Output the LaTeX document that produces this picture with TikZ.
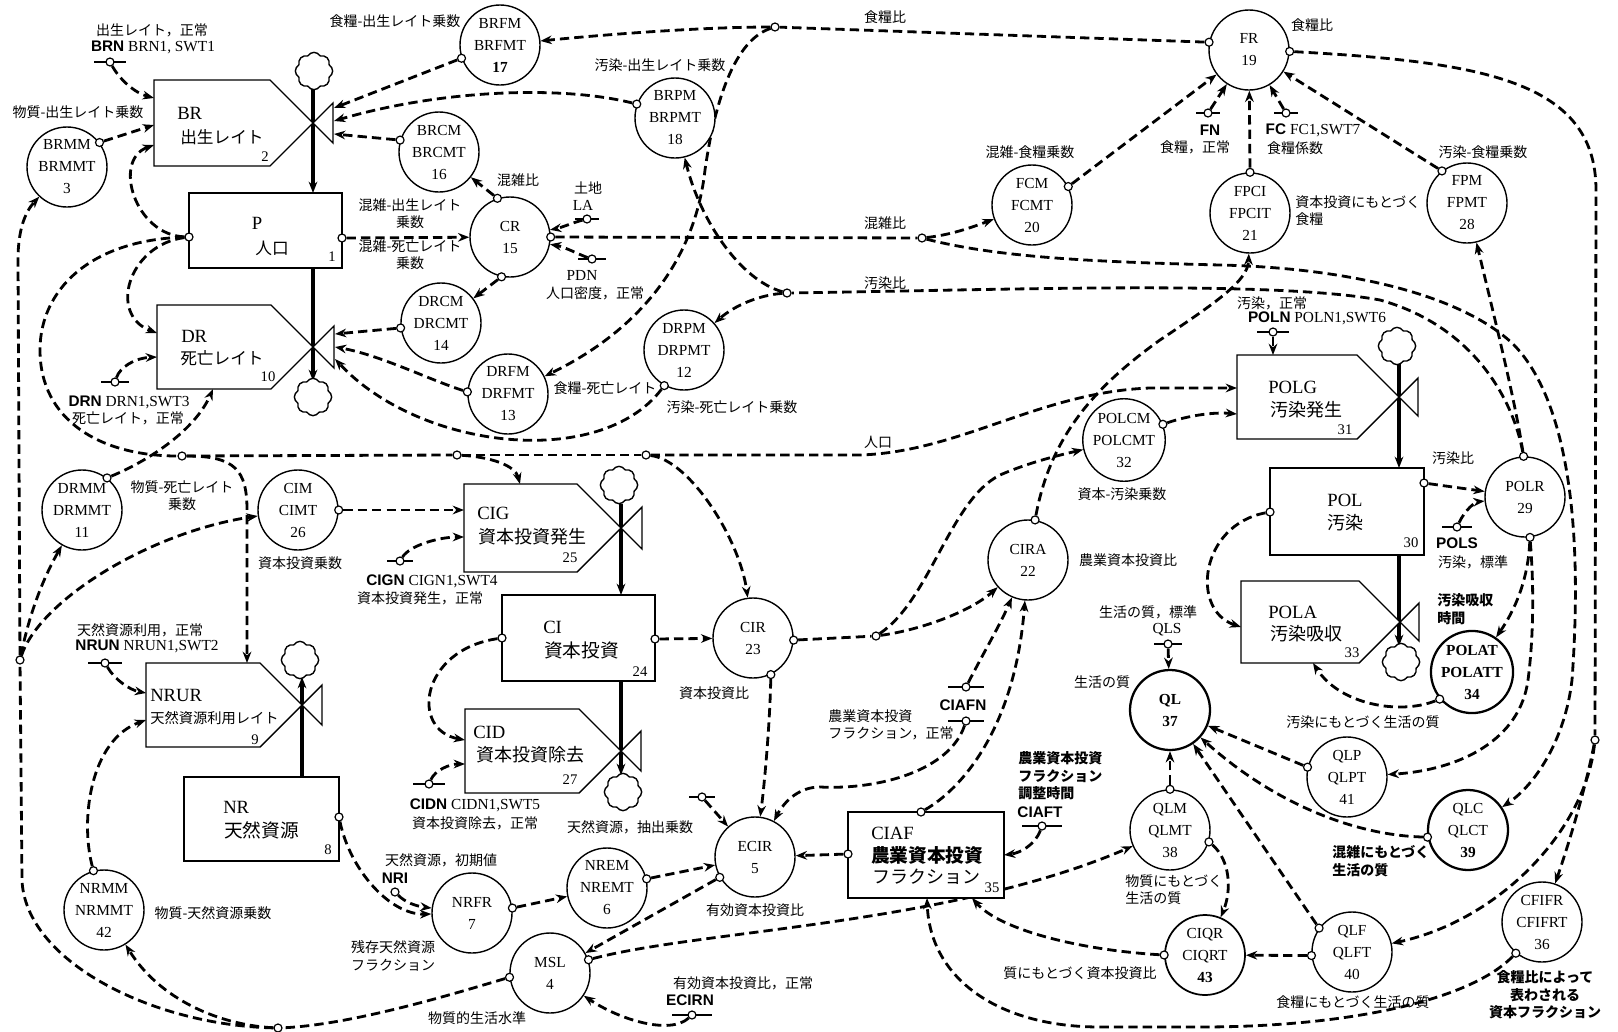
\documentclass[tikz,border=0pt]{standalone}
\usepackage{fontspec}
\setmainfont{Liberation Serif}
\newfontfamily\jp{Noto Sans CJK JP}
\newfontfamily\hv{Liberation Sans}
\usetikzlibrary{arrows.meta,shapes.symbols}
\pgfdeclarelayer{bg}
\pgfsetlayers{bg,main}
\newcommand{\hb}[1]{{\hv\bfseries #1}}
\newcommand{\srcsym}[4]{\draw[bar] (#2,#3) ++(-#4,0) -- ++({2*#4},0); \node[oc] (#1) at (#2,#3) {};}
\tikzset{
 var/.style={circle,draw,line width=1.05pt,fill=white,minimum size=60pt,inner sep=0pt,align=center,font=\fontsize{11.5}{16.5}\selectfont},
 varb/.style={var,line width=1.7pt},
 oc/.style={circle,draw,line width=0.9pt,fill=white,minimum size=6pt,inner sep=0pt},
 dep/.style={line width=2.1pt,dash pattern=on 7pt off 3.8pt,-{Stealth[length=8.5pt,width=6.5pt]}},
 depn/.style={line width=2.1pt,dash pattern=on 7pt off 3.8pt},
 flow/.style={line width=2.3pt,-{Stealth[length=8.5pt,width=6.5pt]}},
 lvl/.style={draw,line width=1.05pt,fill=white,inner sep=0pt},
 rate/.style={draw,line width=1.05pt,fill=white},
 lab/.style={inner sep=0pt,align=center,font=\jp\fontsize{10.5}{13}\selectfont},
 lat/.style={inner sep=0pt,align=center,font=\fontsize{11.5}{13}\selectfont},
 bl/.style={inner sep=0pt,anchor=west,font=\fontsize{14}{16}\selectfont},
 bj/.style={inner sep=0pt,anchor=west,font=\jp\fontsize{13.5}{16}\selectfont},
 num/.style={inner sep=0pt,font=\fontsize{11}{12}\selectfont},
 cl/.style={cloud,draw,line width=1.05pt,fill=white,cloud puffs=8,cloud puff arc=120,aspect=0.95,minimum width=28pt,minimum height=28pt,inner sep=0pt},
 bar/.style={line width=1.7pt},
}
\begin{document}
\begin{tikzpicture}[x=0.75pt,y=-0.75pt]
\useasboundingbox (0,0) rectangle (1618,1032);
\begin{pgfonlayer}{bg}
\fill[white] (0,0) rectangle (1618,1032);
\end{pgfonlayer}

% ---------- rates ----------
\draw[rate] (154,80) -- (270,80) -- (333,143) -- (333,103) -- (270,166) -- (154,166) -- cycle;
\draw[rate] (157,305) -- (271,305) -- (334,368) -- (334,326) -- (271,389) -- (157,389) -- cycle;
\draw[rate] (146,663) -- (260,663) -- (322,725) -- (322,685) -- (260,747) -- (146,747) -- cycle;
\draw[rate] (464,484) -- (577,484) -- (642,549) -- (642,507) -- (577,572) -- (464,572) -- cycle;
\draw[rate] (465,709) -- (579,709) -- (641,771) -- (641,731) -- (579,793) -- (465,793) -- cycle;
\draw[rate] (1237,355) -- (1357,355) -- (1418,416) -- (1418,378) -- (1357,439) -- (1237,439) -- cycle;
\draw[rate] (1241,581) -- (1359,581) -- (1419,641) -- (1419,603) -- (1359,663) -- (1241,663) -- cycle;
\node[bl] (tBR) at (177,113) {BR};
\node[bj,font=\jp\fontsize{12.5}{15}\selectfont] (tBRj) at (180,137) {出生レイト};
\node[num] (tBRn) at (265,157) {2};
\node[bl] (tDR) at (181,336) {DR};
\node[bj,font=\jp\fontsize{12.5}{15}\selectfont] (tDRj) at (180,358) {死亡レイト};
\node[num] (tDRn) at (268,377) {10};
\node[bl] (tNRUR) at (150,695) {NRUR};
\node[bj,font=\jp\fontsize{10.7}{13}\selectfont] (tNRURj) at (150,718) {天然資源利用レイト};
\node[num] (tNRURn) at (255,740) {9};
\node[bl] (tCIG) at (477,513) {CIG};
\node[bj] (tCIGj) at (478,537) {資本投資発生};
\node[num] (tCIGn) at (570,558) {25};
\node[bl] (tCID) at (473,732) {CID};
\node[bj] (tCIDj) at (476,755) {資本投資除去};
\node[num] (tCIDn) at (570,780) {27};
\node[bl] (tPOLG) at (1268,387) {POLG};
\node[bj] (tPOLGj) at (1270,410) {汚染発生};
\node[num] (tPOLGn) at (1345,430) {31};
\node[bl] (tPOLA) at (1268,612) {POLA};
\node[bj] (tPOLAj) at (1270,634) {汚染吸収};
\node[num] (tPOLAn) at (1352,653) {33};

% ---------- levels ----------
\node[lvl,minimum width=114.75pt,minimum height=56.25pt] (P) at (265.5,230.5) {};
\node[lvl,minimum width=116.25pt,minimum height=63pt] (NR) at (261.5,819) {};
\node[lvl,minimum width=114.75pt,minimum height=64.5pt] (CI) at (578.5,638) {};
\node[lvl,minimum width=115.5pt,minimum height=65.25pt] (POL) at (1347,511.5) {};
\node[lvl,line width=1.4pt,minimum width=117pt,minimum height=64.5pt] (CIAF) at (926,855) {};
\node[inner sep=0pt,font=\fontsize{14}{16}\selectfont] (tP) at (257,223) {P};
\node[inner sep=0pt,font=\jp\fontsize{12.5}{15}\selectfont] (tPj) at (272,248) {人口};
\node[num] (tPn) at (332,257) {1};
\node[bl] (tNR) at (223,807) {NR};
\node[bj,font=\jp\fontsize{14}{16}\selectfont] (tNRj) at (224,830) {天然資源};
\node[num] (tNRn) at (328,850) {8};
\node[bl] (tCI) at (543,627) {CI};
\node[bj,font=\jp\fontsize{14}{16}\selectfont] (tCIj) at (544,650) {資本投資};
\node[num] (tCIn) at (640,672) {24};
\node[inner sep=0pt,font=\fontsize{14}{16}\selectfont] (tPOL) at (1345,500) {POL};
\node[inner sep=0pt,font=\jp\fontsize{13.5}{16}\selectfont] (tPOLj) at (1345,523) {汚染};
\node[num] (tPOLn) at (1411,543) {30};
\node[bl] (tCIAF) at (871,833) {CIAF};
\node[bj,font=\jp\bfseries\fontsize{14}{16}\selectfont] (tCIAFj) at (871,855) {農業資本投資};
\node[bj] (tCIAFk) at (872,877) {フラクション};
\node[num] (tCIAFn) at (992,888) {35};

% ---------- clouds ----------
\node[cl] (c1) at (314,71) {};
\node[cl] (c2) at (313,397) {};
\node[cl] (c3) at (619,485) {};
\node[cl] (c4) at (623,792) {};
\node[cl] (c5) at (300,660) {};
\node[cl] (c6) at (1397,346) {};
\node[cl] (c7) at (1401,662) {};

% ---------- auxiliaries ----------
\node[var] (BRMM) at (67,167) {BRMM\\BRMMT\\3};
\node[var] (BRFM) at (500,45) {BRFM\\BRFMT\\\textbf{17}};
\node[var] (BRPM) at (675,118) {BRPM\\BRPMT\\18};
\node[var] (BRCM) at (439,152) {BRCM\\BRCMT\\16};
\node[var] (CR) at (510,237) {CR\\15};
\node[var] (DRCM) at (441,323) {DRCM\\DRCMT\\14};
\node[var] (DRPM) at (684,350) {DRPM\\DRPMT\\12};
\node[var] (DRFM) at (508,394) {DRFM\\DRFMT\\13};
\node[var] (DRMM) at (82,510) {DRMM\\DRMMT\\11};
\node[var] (CIM) at (298,510) {CIM\\CIMT\\26};
\node[var] (CIR) at (753,638) {CIR\\23};
\node[var] (CIRA) at (1028,560) {CIRA\\22};
\node[var] (POLCM) at (1124,440) {POLCM\\POLCMT\\32};
\node[var] (FR) at (1249,50) {FR\\19};
\node[var] (FCM) at (1032,205) {FCM\\FCMT\\20};
\node[var] (FPCI) at (1250,213) {FPCI\\FPCIT\\21};
\node[var] (FPM) at (1467,203) {FPM\\FPMT\\28};
\node[var] (POLR) at (1525,497) {POLR\\29};
\node[varb] (POLAT) at (1472,672) {\textbf{POLAT}\\\textbf{POLATT}\\\textbf{34}};
\node[varb] (QL) at (1170,710) {\textbf{QL}\\\textbf{37}};
\node[var] (QLM) at (1170,830) {QLM\\QLMT\\38};
\node[var] (QLP) at (1347,777) {QLP\\QLPT\\41};
\node[varb] (QLC) at (1468,830) {QLC\\QLCT\\\textbf{39}};
\node[var] (QLF) at (1352,952) {QLF\\QLFT\\40};
\node[var,line width=1.3pt] (CIQR) at (1205,955) {CIQR\\CIQRT\\\textbf{43}};
\node[var] (CFIFR) at (1542,922) {CFIFR\\CFIFRT\\36};
\node[var] (ECIR) at (755,857) {ECIR\\5};
\node[var] (NREM) at (607,888) {NREM\\NREMT\\6};
\node[var] (NRFR) at (472,913) {NRFR\\7};
\node[var] (MSL) at (550,973) {MSL\\4};
\node[var] (NRMM) at (104,910) {NRMM\\NRMMT\\42};

% ---------- take-off circles ----------
\node[oc] (BRMMo) at (BRMM.37) {};
\node[oc] (BRFMo) at (BRFM.199) {};
\node[oc] (BRPMo) at (BRPM.160) {};
\node[oc] (BRCMo) at (BRCM.163) {};
\node[oc] (CRt) at (CR.108) {};
\node[oc] (CRb) at (CR.258) {};
\node[oc] (CRr) at (CR.0) {};
\node[oc] (DRCMo) at (DRCM.187) {};
\node[oc] (DRPMo) at (DRPM.241) {};
\node[oc] (DRFMo) at (DRFM.177) {};
\node[oc] (DRMMo) at (DRMM.52) {};
\node[oc] (CIMo) at (CIM.0) {};
\node[oc] (CIRr) at (CIR.-3) {};
\node[oc] (CIRb) at (CIR.296) {};
\node[oc] (CIRAo) at (CIRA.80) {};
\node[oc] (POLCMo) at (POLCM.22) {};
\node[oc] (FRl) at (FR.169) {};
\node[oc] (FRr) at (FR.358) {};
\node[oc] (FCMo) at (FCM.27) {};
\node[oc] (FPCIo) at (FPCI.90) {};
\node[oc] (FPMo) at (FPM.128) {};
\node[oc] (POLRt) at (POLR.92) {};
\node[oc] (POLRb) at (POLR.277) {};
\node[oc] (POLATo) at (POLAT.220) {};
\node[oc] (QLMt) at (QLM.90) {};
\node[oc] (QLMr) at (QLM.343) {};
\node[oc] (QLPo) at (QLP.166) {};
\node[oc] (QLCo) at (QLC.190) {};
\node[oc] (QLFt) at (QLF.144) {};
\node[oc] (QLFl) at (QLF.185) {};
\node[oc] (CIQRo) at (CIQR.180) {};
\node[oc] (CFIFRo) at (CFIFR.230) {};
\node[oc] (ECIRo) at (ECIR.210) {};
\node[oc] (NREMo) at (NREM.13) {};
\node[oc] (NRFRo) at (NRFR.7) {};
\node[oc] (MSLr) at (MSL.19) {};
\node[oc] (MSLl) at (MSL.186) {};
\node[oc] (NRMMo) at (NRMM.105) {};
\node[oc] (Pl) at (189,237) {};
\node[oc] (Pr) at (342,238) {};
\node[oc] (NRo) at (339,817) {};
\node[oc] (CIl) at (502,638) {};
\node[oc] (CIr) at (655,639) {};
\node[oc] (POLl) at (1270,512) {};
\node[oc] (POLr) at (1424,483) {};
\node[oc] (CIAFt) at (921,812) {};
\node[oc] (CIAFl) at (848,854) {};
% junctions
\node[oc] (J1) at (182,456) {};
\node[oc] (J2) at (457,455) {};
\node[oc] (J3) at (646,455) {};
\node[oc] (J4) at (922,238) {};
\node[oc] (J5) at (775,27) {};
\node[oc] (J6) at (1595,740) {};
\node[oc] (J7) at (787,293) {};
\node[oc] (J8) at (876,636) {};
\node[oc] (J9) at (278,1028) {};
\node[oc] (J10) at (20,660) {};

% ---------- sources ----------
\srcsym{BRN}{110}{62}{16}
\srcsym{DRN}{115}{382}{14}
\srcsym{NRUN}{105}{663}{17}
\srcsym{CIGN}{400}{561}{13}
\srcsym{CIDN}{429}{784}{16}
\srcsym{LA}{587}{219}{12}
\srcsym{PDN}{592}{259}{14}
\srcsym{FN}{1208}{113}{12}
\srcsym{FC}{1286}{113}{12}
\srcsym{POLN}{1273}{332}{16}
\srcsym{POLS}{1457}{527}{15}
\srcsym{QLS}{1168}{644}{14}
\srcsym{CIAFNa}{966}{687}{18}
\srcsym{CIAFNb}{966}{721}{18}
\srcsym{CIAFT}{1042}{826}{20}
\srcsym{ECIRN}{692}{1015}{20}
\srcsym{ECIRs}{702}{797}{13}
\node[oc] (NRI) at (395,892) {};

% ---------- target coordinates ----------
\coordinate (BRa1) at (154,98); \coordinate (BRa2) at (154,125); \coordinate (BRa3) at (154,145);
\coordinate (BRv1) at (334,108); \coordinate (BRv2) at (334,121); \coordinate (BRv3) at (334,134);
\coordinate (DRa1) at (157,333); \coordinate (DRa2) at (157,357); \coordinate (DRa3) at (213,389);
\coordinate (DRv1) at (335,334); \coordinate (DRv2) at (335,347); \coordinate (DRv3) at (335,359);
\coordinate (NRa1) at (146,693); \coordinate (NRa2) at (146,720); \coordinate (NRa3) at (247,663);
\coordinate (CIGa1) at (520,484); \coordinate (CIGa2) at (464,510); \coordinate (CIGa3) at (464,537);
\coordinate (CIDa1) at (465,740); \coordinate (CIDa2) at (465,764);
\coordinate (POLGa1) at (1273,355); \coordinate (POLGa2) at (1237,388); \coordinate (POLGa3) at (1237,414);
\coordinate (POLAa1) at (1241,627); \coordinate (POLAa2) at (1313,663);
\coordinate (CIAFa1) at (1004,855); \coordinate (CIAFa2) at (972,898); \coordinate (CIAFa3) at (927,898);
\coordinate (Pt) at (313,193); \coordinate (Pb) at (313,268);
\coordinate (CIt) at (621,595); \coordinate (CIb) at (621,681);
\coordinate (NRt) at (302,777);
\coordinate (POLt) at (1399,468); \coordinate (POLb) at (1399,555);

% ---------- labels ----------
\node[lab] (t1) at (152,30) {出生レイト，正常};
\node[lat] (t2) at (153,47) {\hb{BRN} BRN1, SWT1};
\node[lab] (t3) at (78,112) {物質-出生レイト乗数};
\node[lab] (t4) at (395,21) {食糧-出生レイト乗数};
\node[lab] (t5) at (660,65) {汚染-出生レイト乗数};
\node[lab] (t6) at (518,180) {混雑比};
\node[lab] (t7) at (588,188) {土地};
\node[lat] (t8) at (583,205) {LA};
\node[lat] (t9) at (582,275) {PDN};
\node[lab] (t10) at (595,293) {人口密度，正常};
\node[lab] (t11) at (410,214) {混雑-出生レイト\\乗数};
\node[lab] (t12) at (410,255) {混雑-死亡レイト\\乗数};
\node[lab] (t13) at (885,17) {食糧比};
\node[lab] (t14) at (885,223) {混雑比};
\node[lab] (t15) at (885,283) {汚染比};
\node[lab] (t16) at (1030,152) {混雑-食糧乗数};
\node[lab] (t17) at (1312,25) {食糧比};
\node[lat] (t18) at (1210,130) {\hb{FN}};
\node[lab] (t19) at (1195,147) {食糧，正常};
\node[lat] (t20) at (1313,130) {\hb{FC} FC1,SWT7};
\node[lab] (t21) at (1295,148) {食糧係数};
\node[lab,align=left,anchor=west] (t22) at (1295,211) {資本投資にもとづく\\食糧};
\node[lab] (t23) at (1483,152) {汚染-食糧乗数};
\node[lab] (t24) at (1272,303) {汚染，正常};
\node[lat] (t25) at (1317,318) {\hb{POLN} POLN1,SWT6};
\node[lab] (t26) at (605,388) {食糧-死亡レイト};
\node[lab] (t27) at (732,407) {汚染-死亡レイト乗数};
\node[lat] (t28) at (129,402) {\hb{DRN} DRN1,SWT3};
\node[lab] (t29) at (128,418) {死亡レイト，正常};
\node[lab] (t30) at (182,496) {物質-死亡レイト\\乗数};
\node[lab] (t31) at (300,563) {資本投資乗数};
\node[lat] (t32) at (432,581) {\hb{CIGN} CIGN1,SWT4};
\node[lab] (t33) at (420,598) {資本投資発生，正常};
\node[lab] (t34) at (878,442) {人口};
\node[lab] (t35) at (1122,494) {資本-汚染乗数};
\node[lab] (t36) at (1128,560) {農業資本投資比};
\node[lab] (t37) at (1148,612) {生活の質，標準};
\node[lat] (t38) at (1167,630) {QLS};
\node[lab] (t39) at (1102,682) {生活の質};
\node[lab] (t40) at (1453,458) {汚染比};
\node[lat] (t41) at (1457,543) {\hb{POLS}};
\node[lab] (t42) at (1473,562) {汚染，標準};
\node[lab,align=left,anchor=west,font=\jp\bfseries\fontsize{10.5}{13}\selectfont] (t43) at (1437,609) {汚染吸収\\時間};
\node[lab] (t44) at (140,630) {天然資源利用，正常};
\node[lat] (t45) at (147,646) {\hb{NRUN} NRUN1,SWT2};
\node[lab] (t46) at (714,693) {資本投資比};
\node[lab] (t47) at (213,913) {物質-天然資源乗数};
\node[lab] (t48) at (441,860) {天然資源，初期値};
\node[lat] (t49) at (395,878) {\hb{NRI}};
\node[lab] (t50) at (393,956) {残存天然資源\\フラクション};
\node[lat] (t51) at (475,805) {\hb{CIDN} CIDN1,SWT5};
\node[lab] (t52) at (475,823) {資本投資除去，正常};
\node[lab] (t53) at (630,827) {天然資源，抽出乗数};
\node[lab] (t54) at (755,910) {有効資本投資比};
\node[lab] (t55) at (477,1018) {物質的生活水準};
\node[lab] (t56) at (743,983) {有効資本投資比，正常};
\node[lat] (t57) at (690,1000) {\hb{ECIRN}};
\node[lab,align=left,anchor=west] (t58) at (828,725) {農業資本投資\\フラクション，正常};
\node[lat] (t59) at (963,705) {\hb{CIAFN}};
\node[lab,align=left,anchor=west,font=\jp\bfseries\fontsize{10.5}{13}\selectfont] (t60) at (1018,776) {農業資本投資\\フラクション\\調整時間};
\node[lat] (t61) at (1040,812) {\hb{CIAFT}};
\node[lab,align=left,anchor=west] (t62) at (1125,890) {物質にもとづく\\生活の質};
\node[lab] (t63) at (1080,973) {質にもとづく資本投資比};
\node[lab] (t64) at (1363,722) {汚染にもとづく生活の質};
\node[lab,align=left,anchor=west,font=\jp\bfseries\fontsize{10.5}{13}\selectfont] (t65) at (1332,861) {混雑にもとづく\\生活の質};
\node[lab] (t66) at (1353,1002) {食糧にもとづく生活の質};
\node[lab,font=\jp\bfseries\fontsize{10.5}{13}\selectfont] (t67) at (1545,995) {食糧比によって\\表わされる\\資本フラクション};

% ---------- connectors ----------
\begin{pgfonlayer}{bg}
% flows
\draw[flow] (313,88) -- (Pt);
\draw[flow] (Pb) -- (313,381);
\draw[flow] (621,504) -- (CIt);
\draw[flow] (CIb) -- (621,775);
\draw[flow] (NRt) -- (302,677);
\draw[flow] (1399,364) -- (POLt);
\draw[flow] (POLb) -- (1399,646);
% birth / death
\draw[dep] (BRN) .. controls (120,80) and (135,93) .. (BRa1);
\draw[dep] (BRMMo) -- (BRa2);
\draw[dep] (Pl) .. controls (135,235) and (112,160) .. (BRa3);
\draw[dep] (Pl) .. controls (128,245) and (108,315) .. (DRa1);
\draw[depn] (Pl) .. controls (90,240) and (40,290) .. (40,350) .. controls (40,420) and (100,456) .. (J1);
\draw[dep] (J1) .. controls (235,456) and (247,470) .. (247,510) -- (NRa3);
\draw[depn] (J1) -- (J2);
\draw[dep] (J2) .. controls (490,457) and (515,465) .. (CIGa1);
\draw[depn] (J2) -- (J3);
\draw[dep] (J3) .. controls (690,460) and (740,540) .. (CIR);
\draw[dep] (J3) -- (860,455) .. controls (960,452) and (1040,392) .. (1150,388) -- (POLGa2);
\draw[dep] (DRMMo) .. controls (150,460) and (195,430) .. (DRa3);
\draw[dep] (DRN) .. controls (120,367) and (135,358) .. (DRa2);
\draw[dep] (BRFMo) -- (BRv1);
\draw[dep] (BRPMo) .. controls (560,85) and (440,90) .. (BRv2);
\draw[dep] (BRCMo) -- (BRv3);
\draw[dep] (DRCMo) -- (DRv1);
\draw[dep] (DRFMo) .. controls (430,380) and (380,355) .. (DRv2);
\draw[dep] (DRPMo) .. controls (600,470) and (420,450) .. (DRv3);
% crowding
\draw[dep] (Pr) -- (CR);
\draw[dep] (CRt) -- (BRCM);
\draw[dep] (CRb) -- (DRCM);
\draw[dep] (LA) .. controls (575,222) and (560,228) .. (CR);
\draw[dep] (PDN) .. controls (580,255) and (565,247) .. (CR);
\draw[depn] (CRr) -- (J4);
\draw[dep] (J4) .. controls (950,235) and (970,228) .. (FCM);
\draw[dep] (J4) .. controls (1000,258) and (1100,262) .. (1220,265) .. controls (1350,268) and (1460,295) .. (1512,343) .. controls (1560,390) and (1585,500) .. (1572,680) .. controls (1565,740) and (1535,785) .. (QLC);
% food
\draw[depn] (FRl) -- (J5);
\draw[dep] (J5) .. controls (700,27) and (600,35) .. (BRFM);
\draw[dep] (J5) .. controls (735,40) and (715,100) .. (705,170) .. controls (695,260) and (640,330) .. (DRFM);
\draw[depn] (FRr) .. controls (1480,62) and (1596,80) .. (1596,190) -- (J6);
\draw[dep] (J6) .. controls (1585,790) and (1570,840) .. (CFIFR);
\draw[dep] (J6) .. controls (1585,830) and (1500,920) .. (QLF);
\draw[dep] (FCMo) -- (FR);
\draw[dep] (FN) -- (FR);
\draw[dep] (FC) -- (FR);
\draw[dep] (FPCIo) -- (FR);
\draw[dep] (FPMo) -- (FR);
% pollution
\draw[depn] (POLRt) .. controls (1512,395) and (1470,325) .. (1380,300) .. controls (1270,280) and (1000,290) .. (J7);
\draw[dep] (J7) .. controls (740,280) and (700,220) .. (BRPM);
\draw[dep] (J7) .. controls (760,295) and (735,305) .. (DRPM);
\draw[dep] (POLRt) .. controls (1515,400) and (1495,320) .. (FPM);
\draw[dep] (POLRb) .. controls (1528,580) and (1515,610) .. (POLAT);
\draw[dep] (POLRb) .. controls (1535,600) and (1532,650) .. (1528,680) .. controls (1520,740) and (1460,770) .. (QLP);
\draw[dep] (POLr) -- (POLR);
\draw[dep] (POLS) .. controls (1465,510) and (1475,502) .. (POLR);
\draw[dep] (POLl) .. controls (1200,525) and (1190,610) .. (POLAa1);
\draw[dep] (POLATo) .. controls (1400,715) and (1340,705) .. (POLAa2);
\draw[dep] (POLN) -- (POLGa1);
\draw[dep] (POLCMo) .. controls (1190,415) and (1215,412) .. (POLGa3);
% capital
\draw[dep] (CIl) .. controls (420,650) and (410,730) .. (CIDa1);
\draw[dep] (CIr) -- (CIR);
\draw[dep] (CIMo) -- (CIGa2);
\draw[dep] (CIGN) .. controls (410,545) and (440,537) .. (CIGa3);
\draw[dep] (CIDN) .. controls (435,770) and (450,764) .. (CIDa2);
\draw[depn] (CIRr) -- (J8);
\draw[dep] (J8) .. controls (920,630) and (970,612) .. (CIRA);
\draw[dep] (J8) .. controls (930,600) and (950,500) .. (1000,475) .. controls (1030,462) and (1060,455) .. (POLCM);
\draw[dep] (CIRAo) .. controls (1050,440) and (1090,390) .. (1160,340) .. controls (1220,300) and (1248,280) .. (FPCI);
\draw[dep] (CIRb) .. controls (770,720) and (765,780) .. (ECIR);
\draw[dep] (CIAFNa) .. controls (985,650) and (1000,625) .. (CIRA);
\draw[dep] (CIAFt) .. controls (960,790) and (1015,730) .. (CIRA);
\draw[dep] (CIAFNb) .. controls (950,770) and (880,790) .. (820,787) .. controls (800,787) and (785,800) .. (ECIR);
\draw[dep] (CIAFT) .. controls (1035,845) and (1020,853) .. (CIAFa1);
\draw[dep] (CIAFl) -- (ECIR);
\draw[dep] (ECIRs) -- (ECIR);
\draw[dep] (NREMo) -- (ECIR);
\draw[dep] (NRFRo) -- (NREM);
\draw[dep] (NRo) .. controls (350,870) and (390,915) .. (NRFR);
\draw[dep] (NRI) .. controls (405,902) and (415,906) .. (NRFR);
\draw[dep] (ECIRo) -- (MSL);
\draw[dep] (ECIRN) .. controls (670,1035) and (620,1020) .. (MSL);
\draw[dep] (MSLr) .. controls (700,930) and (950,925) .. (QLM);
\draw[depn] (MSLl) .. controls (450,995) and (350,1025) .. (J9);
\draw[dep] (J9) .. controls (220,1025) and (160,1000) .. (NRMM);
\draw[depn] (J9) .. controls (150,1025) and (25,960) .. (22,880) -- (J10);
\draw[dep] (J10) -- (18,260) .. controls (18,230) and (25,212) .. (BRMM);
\draw[dep] (J10) .. controls (30,610) and (45,575) .. (DRMM);
\draw[dep] (J10) .. controls (40,600) and (150,532) .. (CIM);
\draw[dep] (NRMMo) .. controls (80,820) and (90,740) .. (NRa2);
\draw[dep] (NRUN) .. controls (115,680) and (130,690) .. (NRa1);
% quality of life
\draw[dep] (QLS) -- (QL);
\draw[dep] (QLMt) -- (QL);
\draw[dep] (QLMr) .. controls (1230,860) and (1232,890) .. (CIQR);
\draw[dep] (QLPo) -- (QL);
\draw[dep] (QLCo) .. controls (1350,835) and (1270,800) .. (QL);
\draw[dep] (QLFt) -- (QL);
\draw[dep] (QLFl) -- (CIQR);
\draw[dep] (CIQRo) .. controls (1080,950) and (1000,930) .. (CIAFa2);
\draw[dep] (CFIFRo) .. controls (1470,1000) and (1350,1027) .. (1200,1027) -- (1100,1027) .. controls (1000,1027) and (930,980) .. (CIAFa3);
\end{pgfonlayer}
\end{tikzpicture}
\end{document}
